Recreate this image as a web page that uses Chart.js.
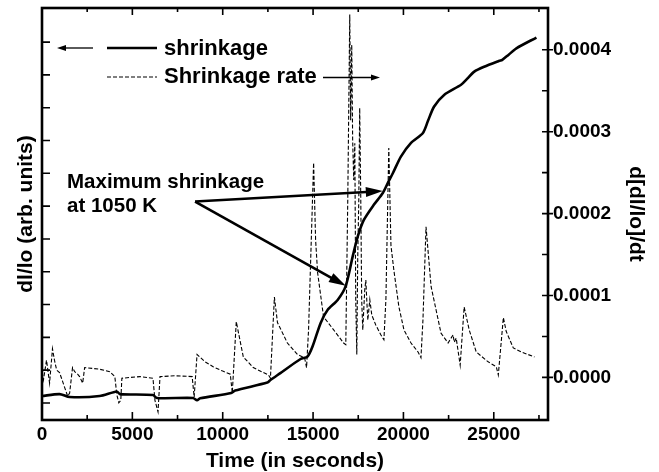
<!DOCTYPE html>
<html>
<head>
<meta charset="utf-8">
<script src="https://cdn.jsdelivr.net/npm/chart.js@4.4.1/dist/chart.umd.min.js"></script>
<style>
  html, body { margin: 0; padding: 0; background: #fff; }
  canvas { display: block; }
</style>
</head>
<body>
<canvas id="chart" width="659" height="472"></canvas>
<script>
// ── Data ────────────────────────────────────────────────────────────────────
// shrinkage, left axis (arbitrary units)
const shrinkTime = [0, 970, 1530, 3190, 4140, 4310, 6140, 6360, 8360, 8580, 8750,
  10470, 10690, 12470, 12640, 13190, 14310, 14690, 14970, 15420, 15810,
  16360, 16810, 17190, 17470, 17810, 18360, 18860, 19140, 19420, 19860,
  20420, 21080, 21360, 21690, 22250, 23190, 23470, 23920, 24470, 25310,
  25470, 25810, 26250, 27360];
const shrinkValue = [0.21, 0.27, 0.18, 0.21, 0.35, 0.27, 0.24, 0.15, 0.15, 0.08, 0.14,
  0.30, 0.38, 0.62, 0.70, 0.91, 1.34, 1.41, 1.72, 2.44, 2.84,
  3.14, 3.57, 4.46, 5.07, 5.58, 6.04, 6.40, 6.71, 7.01, 7.51,
  7.93, 8.23, 8.60, 9.03, 9.39, 9.70, 9.85, 10.10, 10.25, 10.43,
  10.46, 10.61, 10.81, 11.14];

// shrinkage rate, right axis (in units of 1e-4)
const rateTime = [
  0, 80, 250, 420, 580, 690, 810, 970, 1420, 1530,
  1690, 1810, 1970, 2080, 2250, 2360, 3190, 3750, 4030, 4140,
  4250, 4360, 4420, 5420, 6140, 6250, 6420, 6530, 7360, 8310,
  8420, 8580, 9030, 9470, 9970, 10420, 10530, 10750, 11140, 11690,
  12530, 12640, 12860, 13030, 13580, 14140, 14530, 14640, 14750, 15030,
  15140, 15250, 15580, 16140, 16690, 16810, 16920, 17030, 17080, 17140,
  17190, 17250, 17310, 17360, 17420, 17470, 17530, 17580, 17640, 17690,
  17750, 17860, 17920, 17970, 18030, 18140, 18250, 18470, 18750, 18920,
  19030, 19190, 19310, 19470, 19750, 20030, 20420, 20810, 20970, 21080,
  21250, 21530, 21810, 22080, 22470, 22750, 22810, 22920, 23080, 23140,
  23360, 23640, 24030, 24690, 25140, 25250, 25530, 25690, 26080, 26530,
  27250];
const rateE4 = [
  0.07, -0.03, 0.21, -0.07, 0.35, 0.21, 0.09, 0.06, -0.23, -0.19,
  0.12, 0.07, 0.04, 0.01, -0.07, 0.12, 0.10, 0.07, 0.01, -0.21,
  -0.31, -0.28, -0.01, 0.01, -0.01, -0.28, -0.42, 0.01, 0.02, 0.01,
  -0.24, 0.28, 0.19, 0.13, 0.08, 0.04, -0.19, 0.68, 0.25, 0.12,
  0.03, -0.01, 0.98, 0.67, 0.42, 0.28, 0.24, 0.12, 0.58, 2.62,
  1.68, 1.28, 0.74, 0.58, 0.42, 0.40, 2.17, 4.43, 3.14, 4.06,
  2.90, 2.41, 2.86, 0.95, 0.28, 1.44, 2.17, 3.29, 2.17, 0.95,
  0.58, 1.07, 1.19, 0.95, 0.70, 0.95, 0.76, 0.64, 0.52, 0.46,
  0.95, 2.80, 1.61, 1.31, 0.86, 0.58, 0.42, 0.31, 0.24, 0.70,
  1.84, 1.11, 0.82, 0.54, 0.42, 0.52, 0.43, 0.48, 0.24, 0.15,
  0.86, 0.58, 0.31, 0.19, 0.13, 0.03, 0.73, 0.56, 0.36, 0.31,
  0.25];

// ticks
const timeTicks  = [0, 5000, 10000, 15000, 20000, 25000];
const timeMinor  = [2500, 7500, 12500, 17500, 22500, 27500];
const leftTicks  = [0, 1, 2, 3, 4, 5, 6, 7, 8, 9, 10, 11];
const rateTicks  = [0, 0.0001, 0.0002, 0.0003, 0.0004];
const rateMinor  = [0.00005, 0.00015, 0.00025, 0.00035];

// annotation: arrow start + two tips, in (time, left units)
const noteText  = ['Maximum shrinkage', 'at 1050 K'];
const noteStart = { x: 8470, y: 6.14 };
const noteTips  = [{ x: 18860, y: 6.46 }, { x: 16810, y: 3.57 }];

// ── Helpers ─────────────────────────────────────────────────────────────────
const FONT = '"Liberation Sans", Arial, Helvetica, sans-serif';

function arrow(ctx, x0, y0, x1, y1, head, half, lw) {
  const a = Math.atan2(y1 - y0, x1 - x0);
  const c = Math.cos(a), s = Math.sin(a);
  ctx.lineWidth = lw;
  ctx.beginPath();
  ctx.moveTo(x0, y0);
  ctx.lineTo(x1 - c * head * 0.7, y1 - s * head * 0.7);
  ctx.stroke();
  ctx.beginPath();
  ctx.moveTo(x1, y1);
  ctx.lineTo(x1 - head * c + half * s, y1 - head * s - half * c);
  ctx.lineTo(x1 - head * c - half * s, y1 - head * s + half * c);
  ctx.closePath();
  ctx.fill();
}

// frame, inward ticks, legend and annotation
const decorPlugin = {
  id: 'decor',
  afterDraw(chart) {
    const { ctx, chartArea: a, scales: { x, y, y1 } } = chart;
    ctx.save();
    ctx.strokeStyle = '#000';
    ctx.fillStyle = '#000';

    // ticks
    ctx.lineWidth = 1.6;
    ctx.beginPath();
    const xt = (v, len) => {
      const p = x.getPixelForValue(v);
      ctx.moveTo(p, a.bottom); ctx.lineTo(p, a.bottom - len);
      ctx.moveTo(p, a.top); ctx.lineTo(p, a.top + len - 1);
    };
    timeTicks.forEach(v => xt(v, 8));
    timeMinor.forEach(v => xt(v, 5));
    leftTicks.forEach(v => {
      const p = y.getPixelForValue(v);
      ctx.moveTo(a.left, p); ctx.lineTo(a.left + 8, p);
    });
    rateTicks.forEach(v => {
      const p = y1.getPixelForValue(v);
      ctx.moveTo(a.right - 6, p); ctx.lineTo(a.right + 5, p);
    });
    rateMinor.forEach(v => {
      const p = y1.getPixelForValue(v);
      ctx.moveTo(a.right - 6, p); ctx.lineTo(a.right, p);
    });
    ctx.stroke();

    // frame
    ctx.lineWidth = 2.6;
    ctx.strokeRect(a.left, a.top, a.right - a.left, a.bottom - a.top);

    // legend
    const lx = a.left, ly = a.top;
    arrow(ctx, lx + 51, ly + 40, lx + 15, ly + 40, 9, 3, 1.3);
    ctx.lineWidth = 2.6;
    ctx.beginPath();
    ctx.moveTo(lx + 65, ly + 40); ctx.lineTo(lx + 115, ly + 40);
    ctx.stroke();
    ctx.lineWidth = 1.1;
    ctx.setLineDash([4, 2]);
    ctx.beginPath();
    ctx.moveTo(lx + 65, ly + 69); ctx.lineTo(lx + 115, ly + 69);
    ctx.stroke();
    ctx.setLineDash([]);
    ctx.font = 'bold 22px ' + FONT;
    ctx.textBaseline = 'alphabetic';
    ctx.textAlign = 'left';
    ctx.fillText('shrinkage', lx + 122, ly + 47);
    ctx.fillText('Shrinkage rate', lx + 122, ly + 75);
    arrow(ctx, lx + 281, ly + 69.5, lx + 338, ly + 69.5, 9, 3, 1.3);

    // annotation
    ctx.font = 'bold 20.5px ' + FONT;
    const sx = x.getPixelForValue(noteStart.x), sy = y.getPixelForValue(noteStart.y);
    ctx.fillText(noteText[0], a.left + 25, y.getPixelForValue(6.55));
    ctx.fillText(noteText[1], a.left + 25, y.getPixelForValue(5.83));
    noteTips.forEach(t => {
      arrow(ctx, sx, sy, x.getPixelForValue(t.x), y.getPixelForValue(t.y), 17, 5, 2.6);
    });
    ctx.restore();
  }
};

// ── Chart ───────────────────────────────────────────────────────────────────
const shrinkData = shrinkTime.map((t, i) => ({ x: t, y: shrinkValue[i] }));
const rateData = rateTime.map((t, i) => ({ x: t, y: rateE4[i] * 1e-4 }));

const tickFont = { family: FONT, size: 19, weight: 'bold' };
const titleFont = { family: FONT, size: 21, weight: 'bold', lineHeight: 1 };

new Chart(document.getElementById('chart'), {
  type: 'line',
  data: {
    datasets: [
      {
        label: 'shrinkage',
        data: shrinkData,
        yAxisID: 'y',
        borderColor: '#000',
        borderWidth: 2.6,
        pointRadius: 0,
        tension: 0.25,
      },
      {
        label: 'Shrinkage rate',
        data: rateData,
        yAxisID: 'y1',
        borderColor: '#000',
        borderWidth: 1.1,
        borderDash: [4, 2],
        pointRadius: 0,
        tension: 0,
      }
    ]
  },
  options: {
    responsive: false,
    animation: false,
    devicePixelRatio: 1,
    layout: { padding: { top: 8, left: 0, right: 0, bottom: 0 } },
    plugins: { legend: { display: false }, tooltip: { enabled: false } },
    scales: {
      x: {
        type: 'linear',
        position: 'bottom',
        min: 0,
        max: 28000,
        afterBuildTicks: s => { s.ticks = timeTicks.map(v => ({ value: v })); },
        afterFit: s => { s.height = 52; s.paddingLeft = 0; s.paddingRight = 0; },
        grid: { display: false, drawTicks: false },
        border: { display: false },
        ticks: { color: '#000', font: tickFont, padding: 3, maxRotation: 0, callback: v => String(v) },
        title: { display: true, text: 'Time (in seconds)', color: '#000', font: titleFont, padding: { top: 0, bottom: 0 } },
      },
      y: {
        type: 'linear',
        position: 'left',
        min: -0.52,
        max: 12.04,
        afterFit: s => { s.width = 42; s.paddingTop = 0; s.paddingBottom = 0; },
        grid: { display: false, drawTicks: false },
        border: { display: false },
        ticks: { display: false },
        title: { display: true, text: 'dl/lo (arb. units)', color: '#000', font: titleFont, padding: { top: 16, bottom: 0 } },
      },
      y1: {
        type: 'linear',
        position: 'right',
        min: -0.000052,
        max: 0.000451,
        afterBuildTicks: s => { s.ticks = rateTicks.map(v => ({ value: v })); },
        afterFit: s => { s.width = 111; s.paddingTop = 0; s.paddingBottom = 0; },
        grid: { display: false, drawTicks: false },
        border: { display: false },
        ticks: { color: '#000', font: tickFont, padding: 5, callback: v => Number(v).toFixed(4) },
        title: { display: true, text: 'd[dl/lo]/dt', color: '#000', font: titleFont, padding: { top: 13, bottom: 0 } },
      }
    }
  },
  plugins: [decorPlugin]
});
</script>
</body>
</html>
